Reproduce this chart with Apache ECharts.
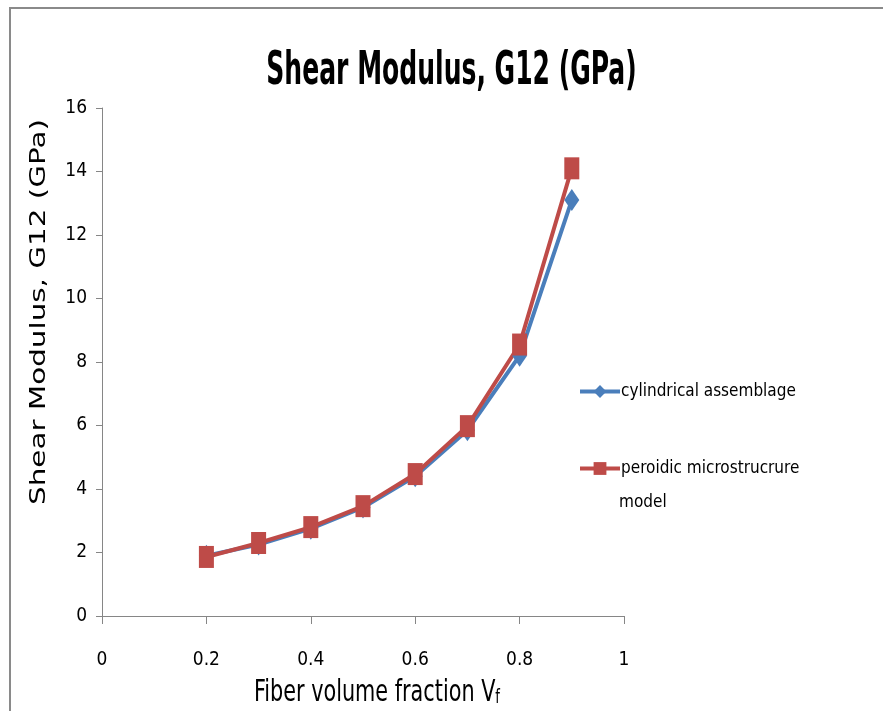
<!DOCTYPE html>
<html>
<head>
<meta charset="utf-8">
<script src="https://cdn.jsdelivr.net/npm/echarts@6/dist/echarts.min.js"></script>
<style>html,body{margin:0;padding:0;background:#fff}#c{width:883px;height:711px}</style>
</head>
<body>
<div id="c"></div>
<script>
const fiberFraction = [0.2, 0.3, 0.4, 0.5, 0.6, 0.7, 0.8, 0.9];
const cylindricalAssemblage = [1.9, 2.25, 2.75, 3.42, 4.4, 5.85, 8.2, 13.1];
const periodicModel = [1.86, 2.3, 2.8, 3.46, 4.47, 5.98, 8.55, 14.1];
const seriesNames = ['cylindrical assemblage', 'peroidic microstrucrure model'];
const titleText = 'Shear Modulus, G12 (GPa)';
const xAxisTitle = 'Fiber volume fraction V{s|f}';
const yAxisTitle = 'Shear Modulus, G12 (GPa)';

const narrow = '"DejaVu Sans Condensed", "Liberation Sans Narrow", sans-serif';
const chart = echarts.init(document.getElementById('c'));
const pairs = (ys) => fiberFraction.map((x, i) => [x, ys[i]]);

chart.setOption({
  animation: false,
  backgroundColor: '#fff',
  grid: { left: 102, right: 259, top: 108, bottom: 95 },
  legend: {
    orient: 'vertical', left: 573, top: 378, itemGap: 60,
    itemWidth: 40, itemHeight: 16,
    data: seriesNames,
    lineStyle: { width: 4 },
    formatter: (n) => n === seriesNames[1] ? 'peroidic microstrucrure' : n,
    textStyle: { fontFamily: narrow, fontSize: 17, color: '#000', padding: [0, 0, 0, -4] }
  },
  graphic: [
    { type: 'polyline', shape: { points: [[10, 711], [10, 8], [883, 8]] }, style: { stroke: '#8a8a8a', lineWidth: 2, fill: null } },
    { type: 'text', x: 451.5, y: 72, scaleX: 0.87, scaleY: 1.45,
      style: { text: titleText, font: 'bold 32px ' + narrow, fill: '#000', align: 'center', verticalAlign: 'middle', textAlign: 'center', textVerticalAlign: 'middle' } },
    { type: 'text', x: 40, y: 312, rotation: Math.PI / 2, scaleX: 1.4, scaleY: 1,
      style: { text: yAxisTitle, font: '21px "DejaVu Sans", Verdana, sans-serif', fill: '#000', align: 'center', verticalAlign: 'middle', textAlign: 'center', textVerticalAlign: 'middle' } },
    { type: 'text', x: 377, y: 693, scaleX: 1.05, scaleY: 1.35,
      style: { text: xAxisTitle, font: '22px ' + narrow, fill: '#000', align: 'center', verticalAlign: 'middle', textAlign: 'center', textVerticalAlign: 'middle',
        rich: { s: { fontFamily: narrow, fontSize: 14, fill: '#000', padding: [8, 0, 0, 0] } } } },
    { type: 'text', x: 619, y: 494, style: { text: 'model', font: '17px ' + narrow, fill: '#000' } }
  ],
  xAxis: {
    type: 'value', min: 0, max: 1, interval: 0.2,
    axisLine: { lineStyle: { color: '#868686', width: 1 } },
    axisTick: { show: true, length: 8, lineStyle: { color: '#868686' } },
    axisLabel: { margin: 35, fontFamily: narrow, fontSize: 19, color: '#000', formatter: (v) => String(+v.toFixed(1)) },
    splitLine: { show: false }
  },
  yAxis: {
    type: 'value', min: 0, max: 16, interval: 2,
    axisLine: { show: true, lineStyle: { color: '#868686', width: 1 } },
    axisTick: { show: true, length: 6, lineStyle: { color: '#868686' } },
    axisLabel: { margin: 15, fontFamily: narrow, fontSize: 19, color: '#000' },
    splitLine: { show: false }
  },
  series: [
    {
      name: seriesNames[0], type: 'line', data: pairs(cylindricalAssemblage),
      symbol: 'diamond', symbolSize: [15, 22],
      lineStyle: { color: '#4a7ebb', width: 4 }, itemStyle: { color: '#4a7ebb' }
    },
    {
      name: seriesNames[1], type: 'line', data: pairs(periodicModel),
      symbol: 'rect', symbolSize: [15, 22],
      lineStyle: { color: '#be4b48', width: 4 }, itemStyle: { color: '#be4b48' }
    }
  ]
});
</script>
</body>
</html>
